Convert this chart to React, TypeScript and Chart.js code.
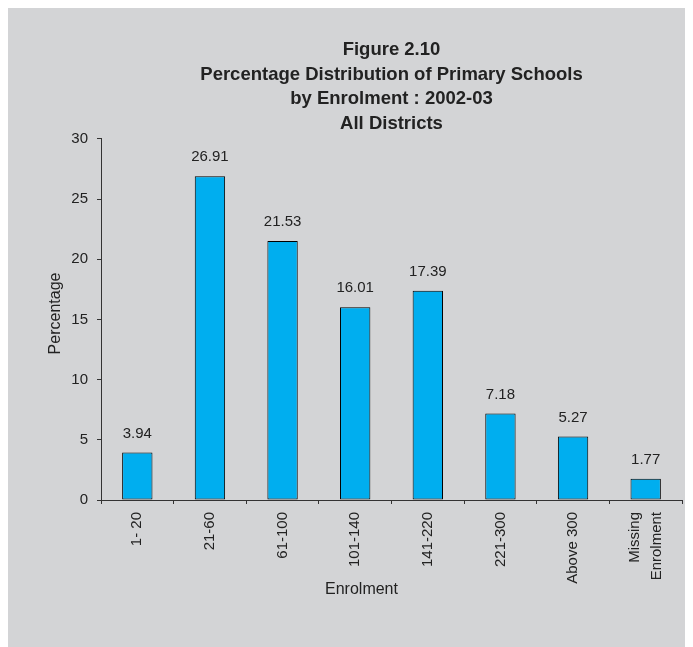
import React, { useEffect, useRef } from "react";
import { Chart, registerables } from "chart.js";

Chart.register(...registerables);

const categories: (string | string[])[] = [
  "1- 20",
  "21-60",
  "61-100",
  "101-140",
  "141-220",
  "221-300",
  "Above 300",
  ["Missing", "Enrolment"],
];
const percentages = [3.94, 26.91, 21.53, 16.01, 17.39, 7.18, 5.27, 1.77];
const yTicks = [0, 5, 10, 15, 20, 25, 30];
const titleLines = [
  "Figure 2.10",
  "Percentage Distribution of Primary Schools",
  "by Enrolment : 2002-03",
  "All Districts",
];
const xAxisTitle = "Enrolment";
const yAxisTitle = "Percentage";

const FONT = '"Liberation Sans", Arial, Helvetica, sans-serif';
const X_LABEL_SIZE = 15;
const X_LABEL_LH = 1.45;

const annotate = {
  id: "annotate",
  beforeDraw(chart: any) {
    // center multi-line rotated category labels on their tick
    const xs = chart.scales.x;
    const items = xs.getLabelItems(chart.chartArea) || [];
    items.forEach((it: any) => {
      const tr = it && it.options && it.options.translation;
      if (tr && Array.isArray(it.label) && it.label.length > 1 && !it._centered) {
        const shift = ((it.label.length - 1) * X_LABEL_SIZE * X_LABEL_LH) / 2;
        it.options.translation = [tr[0] - shift, tr[1]];
        it._centered = true;
      }
    });
  },
  afterDatasetsDraw(chart: any) {
    const ctx = chart.ctx as CanvasRenderingContext2D;
    const meta = chart.getDatasetMeta(0);
    ctx.save();
    ctx.font = `15px ${FONT}`;
    ctx.fillStyle = "#222";
    ctx.textAlign = "center";
    ctx.textBaseline = "alphabetic";
    meta.data.forEach((bar: any, i: number) => {
      ctx.fillText(percentages[i].toFixed(2), bar.x, bar.y - 15);
    });
    const { left, right, top, bottom } = chart.chartArea;
    ctx.font = `16px ${FONT}`;
    ctx.textBaseline = "middle";
    ctx.fillText(xAxisTitle, (left + right) / 2 - 30, bottom + 90);
    ctx.translate(left - 45.5, (top + bottom) / 2 - 6);
    ctx.rotate(-Math.PI / 2);
    ctx.fillText(yAxisTitle, 0, 0);
    ctx.restore();
  },
};

export default function App() {
  const ref = useRef<HTMLCanvasElement | null>(null);

  useEffect(() => {
    if (!ref.current) return;
    const chart = new Chart(ref.current, {
      type: "bar",
      data: {
        labels: categories,
        datasets: [
          {
            data: percentages,
            backgroundColor: "#00aeef",
            borderColor: "#000000",
            borderWidth: 1,
            borderSkipped: false,
            barPercentage: 0.418,
            categoryPercentage: 1,
          },
        ],
      },
      options: {
        responsive: false,
        animation: false,
        layout: { padding: { top: 0, left: 0, right: 11, bottom: 0 } },
        plugins: {
          legend: { display: false },
          tooltip: { enabled: false },
          title: {
            display: true,
            fullSize: false,
            text: titleLines,
            color: "#222",
            font: { family: FONT, size: 18.5, weight: "bold", lineHeight: 1.32 },
            padding: { top: 30, bottom: 3.3 },
          },
        },
        scales: {
          x: {
            grid: {
              drawOnChartArea: false,
              drawTicks: true,
              tickLength: 4,
              color: "#333",
              offset: true,
            },
            border: { display: true, color: "#333", width: 1 },
            ticks: {
              autoSkip: false,
              minRotation: 90,
              maxRotation: 90,
              padding: 8,
              color: "#222",
              font: { family: FONT, size: X_LABEL_SIZE, lineHeight: X_LABEL_LH },
            },
            afterFit: (scale: any) => {
              scale.height = 147;
              scale.paddingLeft = 0;
              scale.paddingRight = 0;
            },
          },
          y: {
            min: 0,
            max: 30,
            grid: {
              drawOnChartArea: false,
              drawTicks: true,
              tickLength: 4,
              color: "#333",
            },
            border: { display: true, color: "#333", width: 1 },
            ticks: {
              stepSize: 5,
              padding: 9,
              color: "#222",
              font: { family: FONT, size: 15 },
            },
            afterBuildTicks: (scale: any) => {
              scale.ticks = yTicks.map((v) => ({ value: v }));
            },
            afterFit: (scale: any) => {
              scale.width = 93;
            },
          },
        },
      },
      plugins: [annotate],
    });
    return () => chart.destroy();
  }, []);

  return (
    <canvas
      ref={ref}
      width={685}
      height={639}
      style={{ display: "block", background: "#d3d4d6", width: 685, height: 639 }}
    />
  );
}
